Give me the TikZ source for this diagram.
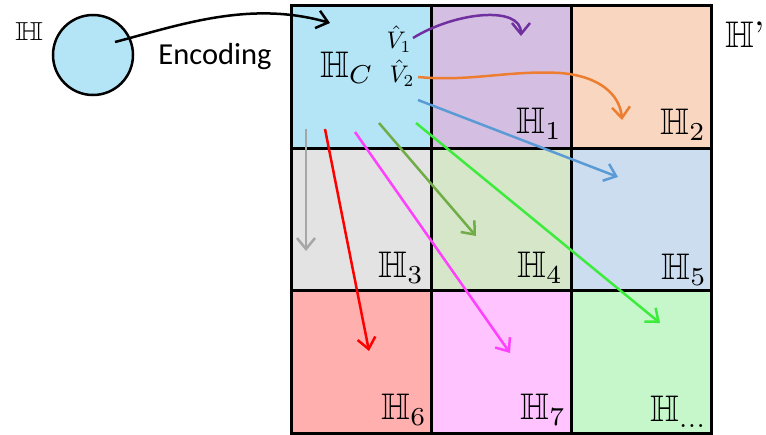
\documentclass[tikz,border=0pt]{standalone}
\usepackage{amssymb}
\usepackage{fontspec}
\newfontfamily\encfont{Carlito}
\usetikzlibrary{arrows.meta}
\newcommand\cellH[1]{\scalebox{3.7}{$\mathbb{H}_{#1}$}}
\definecolor{cHC}{HTML}{B3E5F7}
\definecolor{cA}{HTML}{D4BFE3}
\definecolor{cB}{HTML}{F9D6C0}
\definecolor{cC}{HTML}{E3E3E3}
\definecolor{cD}{HTML}{D5E6C9}
\definecolor{cE}{HTML}{CCDDEF}
\definecolor{cF}{HTML}{FFB0AE}
\definecolor{cG}{HTML}{FFC3FF}
\definecolor{cH}{HTML}{C5F7CB}
\definecolor{aPurple}{HTML}{7030A0}
\definecolor{aOrange}{HTML}{ED7D31}
\definecolor{aBlue}{HTML}{5B9BD5}
\definecolor{aLime}{HTML}{3CEB3C}
\definecolor{aOlive}{HTML}{70AD47}
\definecolor{aMagenta}{HTML}{FF40FF}
\definecolor{aRed}{HTML}{FF0000}
\definecolor{aGray}{HTML}{A6A6A6}
\begin{document}
\begin{tikzpicture}[x=1pt,y=-1pt,
  cell/.style={draw=black, line width=3pt, minimum width=140pt, inner sep=0pt, outer sep=0pt, anchor=north west},
  lab/.style={inner sep=0pt, outer sep=0pt, anchor=south east},
  arr/.style={line width=2.5pt, -{Straight Barb[length=11pt,width=18pt]}}]
\useasboundingbox (0,0) rectangle (766,434);
% grid cells
\node[cell, fill=cHC, minimum height=143pt] (c1) at (291,5) {};
\node[cell, fill=cA, minimum height=143pt] (c2) at (431,5) {};
\node[cell, fill=cB, minimum height=143pt] (c3) at (571,5) {};
\node[cell, fill=cC, minimum height=142pt] (c4) at (291,148) {};
\node[cell, fill=cD, minimum height=142pt] (c5) at (431,148) {};
\node[cell, fill=cE, minimum height=142pt] (c6) at (571,148) {};
\node[cell, fill=cF, minimum height=143pt] (c7) at (291,290) {};
\node[cell, fill=cG, minimum height=143pt] (c8) at (431,290) {};
\node[cell, fill=cH, minimum height=143pt] (c9) at (571,290) {};
% input circle
\node[circle, draw=black, line width=2.5pt, fill=cHC, minimum size=80pt, inner sep=0pt] (hin) at (93,55) {};
% labels
\node[inner sep=0pt] (lH) at (29,32) {\scalebox{3.6}[2.6]{$\mathbb{H}$}};
\node[inner sep=0pt] (lHp) at (745,35) {\scalebox{3.7}{$\mathbb{H}$\textquoteright}};
\node[inner sep=0pt, font=\encfont\fontsize{30.5}{30.5}\selectfont] (enc) at (215,57) {Encoding};
\node[inner sep=0pt] (lHC) at (347,68) {\cellH{C}};
\node[inner sep=0pt] (v1) at (399,39) {\scalebox{2.4}{$\hat{V}_1$}};
\node[inner sep=0pt] (v2) at (402,73) {\scalebox{2.4}{$\hat{V}_2$}};
\node[lab] (l1) at (562,139) {\cellH{1}};
\node[lab] (l2) at (706,140) {\cellH{2}};
\node[lab] (l3) at (424,283) {\cellH{3}};
\node[lab] (l4) at (563,283) {\cellH{4}};
\node[lab] (l5) at (707,285) {\cellH{5}};
\node[lab] (l6) at (427,425) {\cellH{6}};
\node[lab] (l7) at (566,425) {\cellH{7}};
\node[lab] (l8) at (707,427) {\cellH{\ldots}};
% connector end points
\coordinate (encS) at (115,42);
\coordinate (encT) at (330,23);
\coordinate (pS) at (413,38);  \coordinate (pT) at (521,36);
\coordinate (oS) at (418,77);  \coordinate (oM) at (560,73); \coordinate (oT) at (622,120);
\coordinate (bS) at (418,100); \coordinate (bT) at (618,177);
\coordinate (gS) at (416,123); \coordinate (gT) at (660,323);
\coordinate (vS) at (379,123); \coordinate (vT) at (476,236);
\coordinate (mS) at (355,132); \coordinate (mT) at (510,353);
\coordinate (rS) at (325,129); \coordinate (rT) at (369,351);
\coordinate (yS) at (306,129); \coordinate (yT) at (306,251);
% connectors
\draw[arr, black] (encS) .. controls (180,25) and (250,0) .. (encT);
\draw[arr, aPurple] (pS) .. controls (455,12) and (521,5) .. (pT);
\draw[arr, aOrange] (oS) .. controls (470,82) and (510,70) .. (oM) .. controls (600,76) and (620,95) .. (oT);
\draw[arr, aBlue] (bS) -- (bT);
\draw[arr, aLime] (gS) -- (gT);
\draw[arr, aOlive] (vS) -- (vT);
\draw[arr, aMagenta] (mS) -- (mT);
\draw[arr, aRed] (rS) -- (rT);
\draw[arr, aGray] (yS) -- (yT);
\end{tikzpicture}
\end{document}
